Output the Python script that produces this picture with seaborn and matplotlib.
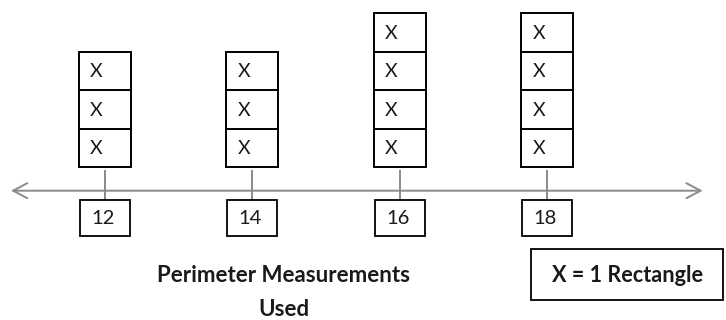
import matplotlib
matplotlib.use("Agg")
import matplotlib.pyplot as plt
import seaborn as sns
import pandas as pd
from matplotlib.patches import Rectangle

# ---- data ----
perimeters = ["12", "14", "16", "18"]
counts = [3, 3, 4, 4]
mark = "X"
axis_title_lines = ["Perimeter Measurements", "Used"]
key_text = "X = 1 Rectangle"

rows = [{"perimeter": p, "level": str(k)} for p, c in zip(perimeters, counts) for k in range(c)]
df = pd.DataFrame(rows)

sns.set_theme(style="white")
plt.rcParams['font.family'] = ['Lato', 'DejaVu Sans']

W, H = 726, 320
fig = plt.figure(figsize=(W / 100, H / 100), dpi=100)
ax = fig.add_axes([0, 0, 1, 1])

PX = 147.5    # pixels per category step
PY = 38.5     # pixels per count unit
X0 = 104.5    # pixel x of first category
Y0 = 167      # pixel y of count 0

def vy(py):
    return (Y0 - py) / PY

levels = sorted(df["level"].unique())
sns.histplot(data=df, x="perimeter", hue="level", hue_order=levels,
             multiple="stack", discrete=True, shrink=52 / PX,
             palette=["white"] * len(levels), edgecolor="black",
             linewidth=1.4, alpha=1, legend=False, ax=ax)
for p in list(ax.patches):
    if p.get_height() == 0:
        p.remove()

ax.set_xlim(-X0 / PX, (W - X0) / PX)
ax.set_ylim(vy(H), vy(0))
ax.set_axis_off()

txt_col = "#1a1a1a"
gray = "#8a8a8a"

# X marks inside boxes
for i, c in enumerate(counts):
    for k in range(c):
        ax.text(i - 0.055, k + 0.47, mark, ha="center", va="center",
                fontsize=14, color=txt_col)

# stems
ax.vlines(range(len(perimeters)), vy(200), vy(170), color=gray, lw=1.4, zorder=1)

# number line with arrows
ax.annotate("", xy=((11 - X0) / PX, vy(190.7)), xytext=((702.7 - X0) / PX, vy(190.7)),
            arrowprops=dict(arrowstyle="<->,head_length=0.85,head_width=0.45",
                            color=gray, lw=1.4, shrinkA=0, shrinkB=0))

# tick label boxes
for i, lab in enumerate(perimeters):
    ax.add_patch(Rectangle((i - 25 / PX, vy(236)), 50 / PX, 36 / PY,
                           facecolor="white", edgecolor="black", lw=1.3, zorder=3))
    ax.text(i - 0.01, vy(218.5), lab, ha="center", va="center", fontsize=14.5,
            color=txt_col, zorder=4)

# axis title
fig.text(283.7 / W, 1 - 275 / H, axis_title_lines[0], ha="center", va="center",
         fontsize=16, fontweight="bold", color=txt_col)
fig.text(283.7 / W, 1 - 310 / H, axis_title_lines[1], ha="center", va="center",
         fontsize=16, fontweight="bold", color=txt_col)

# key box
fig.add_artist(Rectangle((531 / W, 1 - 300 / H), 192 / W, 51 / H,
                         transform=fig.transFigure, fill=False,
                         edgecolor="black", lw=1.3))
fig.text(551.7 / W, 1 - 275 / H, key_text, ha="left", va="center",
         fontsize=15.6, fontweight="bold", color=txt_col)

fig.savefig("out.png", dpi=100)
